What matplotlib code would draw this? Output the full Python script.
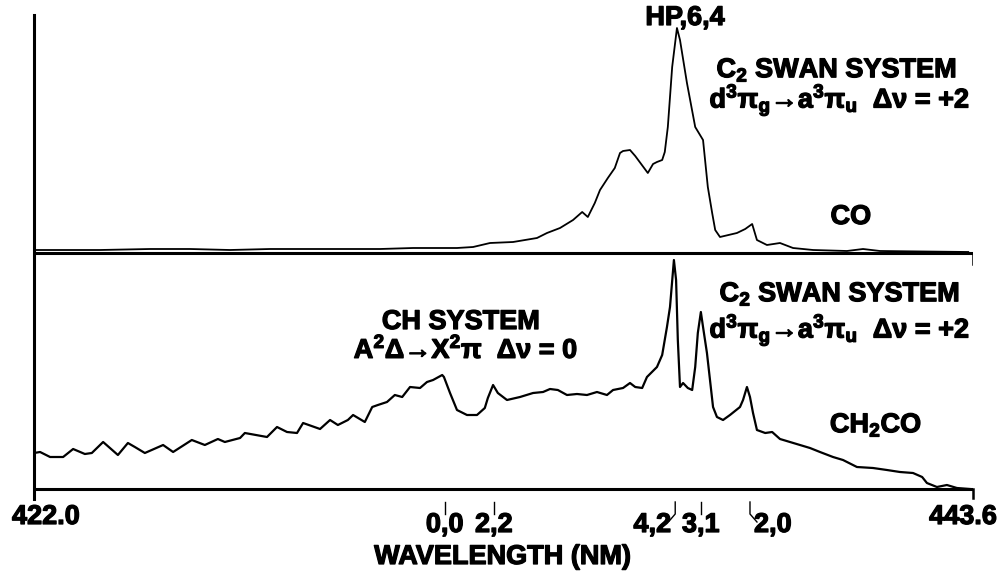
import matplotlib
matplotlib.use("Agg")
import matplotlib.pyplot as plt
import matplotlib.patheffects as pe

plt.rcParams["font.family"] = ["Liberation Sans", "DejaVu Sans"]
plt.rcParams["font.weight"] = "bold"
plt.rcParams["mathtext.fontset"] = "custom"
plt.rcParams["mathtext.rm"] = "Liberation Sans:bold"
plt.rcParams["mathtext.it"] = "Liberation Sans:bold"
plt.rcParams["mathtext.bf"] = "Liberation Sans:bold"
plt.rcParams["mathtext.sf"] = "Liberation Sans:bold"
plt.rcParams["mathtext.default"] = "rm"

# wavelength range (nm)
WL_MIN, WL_MAX = 422.0, 443.6

# CO flame spectrum (wavelength nm, intensity a.u.)
co_wl = [422.00, 422.60, 423.52, 424.67, 425.59, 426.51, 427.43, 428.35, 429.27,
         429.96, 430.72, 431.73, 432.10, 432.49, 433.02, 433.57, 433.80, 434.10,
         434.40, 434.61, 434.74, 434.90, 435.02, 435.20, 435.36, 435.48, 435.55,
         435.71, 435.83, 436.12, 436.24, 436.33, 436.45, 436.51, 436.58, 436.68,
         436.79, 436.86, 437.02, 437.21, 437.39, 437.50, 437.60, 437.67, 437.78,
         438.17, 438.36, 438.52, 438.63, 438.86, 439.16, 439.46, 439.92, 440.70,
         441.07, 441.46, 443.49]
co_int = [3, 3, 3, 4, 4, 3, 4, 4, 4,
          4, 5, 5, 6, 10, 11, 15, 20, 25,
          33, 41, 36, 50, 63, 75, 85, 100, 102,
          103, 97, 80, 89, 91, 93, 101, 126, 186,
          225, 213, 170, 126, 113, 66, 40, 23, 16,
          20, 24, 29, 13, 8, 10, 5, 3, 2,
          4, 2, 1]

# CH2CO flame spectrum (wavelength nm, intensity a.u.)
ch2co_wl = [422.00, 422.14, 422.37, 422.67, 422.90, 423.17, 423.33, 423.59, 423.93,
            424.16, 424.32, 424.55, 424.97, 425.20, 425.63, 425.93, 426.23, 426.39,
            426.74, 426.85, 427.36, 427.59, 427.82, 428.05, 428.19, 428.58, 428.81,
            428.99, 429.22, 429.34, 429.61, 429.78, 429.91, 430.12, 430.30, 430.47,
            430.65, 430.88, 431.04, 431.18, 431.39, 431.43, 431.57, 431.73, 431.96,
            432.19, 432.37, 432.44, 432.56, 432.67, 432.88, 433.18, 433.48, 433.71,
            433.87, 434.05, 434.26, 434.49, 434.72, 434.95, 435.18, 435.32, 435.55,
            435.71, 435.83, 435.99, 436.10, 436.33, 436.45, 436.56, 436.63, 436.72,
            436.77, 436.81, 436.86, 436.93, 437.04, 437.14, 437.21, 437.27, 437.34,
            437.39, 437.48, 437.55, 437.62, 437.71, 437.85, 438.01, 438.24, 438.31,
            438.40, 438.47, 438.54, 438.63, 438.82, 438.98, 439.16, 439.39, 439.62,
            439.85, 440.08, 440.38, 440.61, 440.93, 441.30, 441.62, 441.92, 442.22,
            442.43, 442.54, 442.77, 443.00, 443.23, 443.53]
ch2co_int = [36, 37, 32, 32, 40, 35, 36, 47, 34,
             46, 42, 36, 44, 37, 49, 44, 50, 47,
             51, 56, 52, 62, 57, 56, 66, 60, 69,
             64, 69, 74, 67, 82, 84, 87, 94, 92,
             102, 101, 107, 109, 114, 112, 96, 79, 74,
             74, 81, 91, 104, 96, 89, 92, 96, 97,
             100, 99, 94, 95, 94, 97, 94, 99, 101,
             106, 102, 101, 112, 122, 134, 162, 182, 229,
             209, 149, 102, 106, 101, 99, 122, 156, 177,
             162, 136, 109, 82, 72, 69, 74, 82, 89,
             102, 92, 76, 59, 56, 57, 50, 47, 44,
             41, 37, 32, 29, 22, 21, 19, 17, 16,
             12, 6, 2, 4, 1, 0]

# band head markers
band_wl = [431.45, 432.58, 436.75, 437.34, 438.47]
band_labels = ["0,0", "2,2", "4,2", "3,1", "2,0"]

CO_OFFSET = 236
FS = 19.5
HEAVY = [pe.withStroke(linewidth=0.9, foreground="black")]

fig = plt.figure(figsize=(9.97, 5.75), dpi=100)
W, H = 997, 575
ax = fig.add_axes([34 / W, (H - 499) / H, 939 / W, 484 / H])
ax.set_xlim(WL_MIN, WL_MAX)
ax.set_ylim(-10, 474)
for s in ["top", "right", "bottom"]:
    ax.spines[s].set_visible(False)
ax.spines["left"].set_linewidth(2.2)
ax.set_xticks([])
ax.set_yticks([])


def label(x, y, s, **kw):
    kw.setdefault("ha", "center")
    ax.text(x, y, s, va="center", fontsize=FS, path_effects=HEAVY, **kw)


# baselines
ax.plot([WL_MIN, WL_MAX], [0, 0], color="black", lw=2.2, solid_capstyle="butt")
ax.plot([WL_MIN, WL_MAX], [CO_OFFSET, CO_OFFSET], color="black", lw=2.2, solid_capstyle="butt")
ax.plot([WL_MAX, WL_MAX], [0, -9], color="black", lw=1.8, clip_on=False)
ax.plot([WL_MAX, WL_MAX], [CO_OFFSET, CO_OFFSET - 11], color="black", lw=1.8)

# spectra
ax.plot(co_wl, [v + CO_OFFSET for v in co_int], color="black", lw=1.3)
ax.plot(ch2co_wl, ch2co_int, color="black", lw=1.6)

# band head ticks and labels
dx = (WL_MAX - WL_MIN) / 939
for wl, lab in zip(band_wl, band_labels):
    if lab == "4,2":
        ax.plot([wl, wl, wl - 6 * dx], [-13, -25, -32], color="black", lw=1.0, clip_on=False)
        label(wl - 4 * dx, -36, lab, ha="right")
    elif lab == "2,0":
        ax.plot([wl, wl, wl + 7 * dx], [-13, -25, -33], color="black", lw=1.0, clip_on=False)
        label(wl + 4 * dx, -36, lab, ha="left")
    else:
        ax.plot([wl, wl], [-13, -25], color="black", lw=1.0, clip_on=False)
        label(wl, -36, lab)

label(WL_MIN - 22 * dx, -28, f"{WL_MIN:.1f}", ha="left")
label(WL_MAX + 24 * dx, -28, f"{WL_MAX:.1f}", ha="right")
label(432.79, -68, "WAVELENGTH (NM)")

# annotations
swan = r"d$^3$π$_g$→a$^3$π$_u$  Δν = +2"
label(436.98, 471, "HP,6,4")
label(440.47, 419, "C$_2$ SWAN SYSTEM")
label(440.54, 389, swan)
label(440.79, 272, "CO")

label(431.82, 167, "CH SYSTEM")
label(431.94, 139, r"A$^2$Δ→X$^2$π  Δν = 0")
label(440.54, 195, "C$_2$ SWAN SYSTEM")
label(440.54, 159, swan)
label(441.37, 64, "CH$_2$CO")

fig.savefig("out.png", dpi=100)
